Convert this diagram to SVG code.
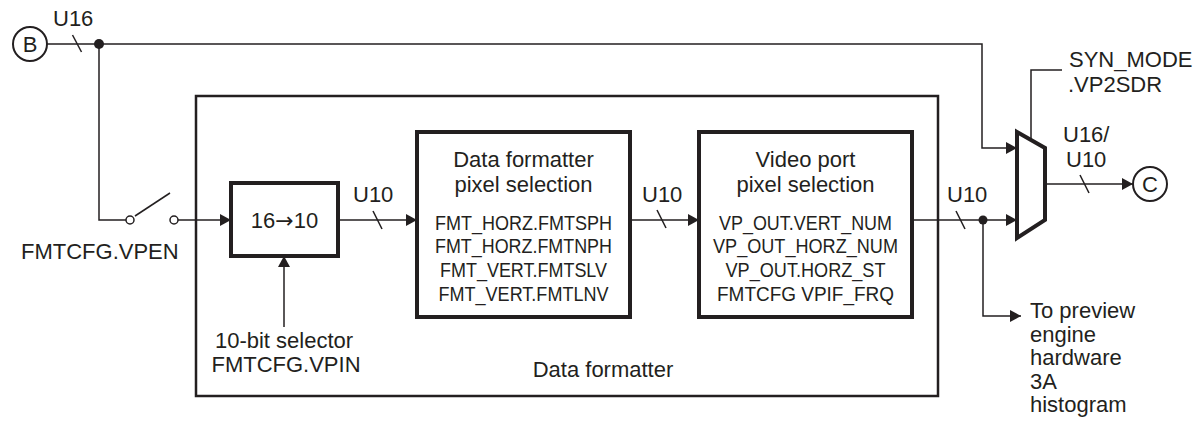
<svg xmlns="http://www.w3.org/2000/svg" width="1199" height="424" viewBox="0 0 1199 424">
<style>
text{font-family:"Liberation Sans",Arial,sans-serif;font-size:22px;fill:#231f20}
.c{text-anchor:middle}
.n{font-size:21px}
.ar{font-family:"DejaVu Sans",sans-serif;font-size:22px}
.ln{fill:none;stroke:#231f20;stroke-width:1.5}
.box{fill:#fff;stroke:#231f20;stroke-width:4}
.big{fill:none;stroke:#231f20;stroke-width:2.5}
.dot{fill:#231f20}
</style>
<defs>
<marker id="arr" viewBox="0 0 11 12" refX="11" refY="6" markerWidth="11" markerHeight="12" markerUnits="userSpaceOnUse" orient="auto">
<path d="M0,0 L11,6 L0,12 z" fill="#231f20"/>
</marker>
</defs>

<g id="data-formatter">
<rect class="big" x="196" y="96" width="742" height="300"/>
<text class="c" x="603" y="377">Data formatter</text>
</g>

<g id="connectors">
<path class="ln" d="M47,44 H982 V148 H1017" marker-end="url(#arr)"/>
<line class="ln" x1="72.5" y1="35" x2="81.5" y2="52"/>
<path class="ln" d="M99,44 V220 H126"/>
<line class="ln" x1="135" y1="216" x2="170" y2="193"/>
<path class="ln" d="M178,220 H231" marker-end="url(#arr)"/>
<path class="ln" d="M338,220 H417" marker-end="url(#arr)"/>
<line class="ln" x1="373" y1="211" x2="382" y2="229"/>
<path class="ln" d="M630,220 H699" marker-end="url(#arr)"/>
<line class="ln" x1="657" y1="210" x2="666" y2="228"/>
<path class="ln" d="M912,220 H1017" marker-end="url(#arr)"/>
<line class="ln" x1="956" y1="211" x2="965" y2="229"/>
<path class="ln" d="M983,220 V316 H1021" marker-end="url(#arr)"/>
<path class="ln" d="M284,327 V256" marker-end="url(#arr)"/>
<path class="ln" d="M1045,184 H1133" marker-end="url(#arr)"/>
<line class="ln" x1="1080" y1="175" x2="1089" y2="193"/>
<path class="ln" d="M1062,70 H1031 V140" stroke="#444"/>
<circle class="dot" cx="99" cy="44" r="5"/>
<circle class="dot" cx="983" cy="220" r="4.5"/>
</g>

<g id="node-b">
<circle cx="30" cy="44" r="17" fill="#fff" stroke="#231f20" stroke-width="2"/>
<text class="c" x="30" y="52">B</text>
</g>
<text x="53" y="26">U16</text>

<g id="switch">
<circle cx="130" cy="220" r="4" fill="#fff" stroke="#231f20" stroke-width="1.5"/>
<circle cx="174" cy="220" r="4" fill="#fff" stroke="#231f20" stroke-width="1.5"/>
<text x="21" y="259">FMTCFG.VPEN</text>
</g>

<g id="conv-16-10">
<rect class="box" x="231" y="183" width="107" height="73"/>
<text class="c" x="284.5" y="228">16<tspan class="ar">→</tspan>10</text>
</g>
<text x="353" y="202">U10</text>
<g id="selector-label">
<text class="c" x="284" y="348">10-bit selector</text>
<text class="c" x="286" y="372">FMTCFG.VPIN</text>
</g>

<g id="fmt-pixel-selection">
<rect class="box" x="417" y="132" width="213" height="185"/>
<text class="c" x="523.5" y="167">Data formatter</text>
<text class="c" x="523.5" y="192">pixel selection</text>
<text class="c n" x="523.5" y="230" textLength="177" lengthAdjust="spacingAndGlyphs">FMT_HORZ.FMTSPH</text>
<text class="c n" x="523.5" y="253" textLength="177" lengthAdjust="spacingAndGlyphs">FMT_HORZ.FMTNPH</text>
<text class="c n" x="523.5" y="277" textLength="167" lengthAdjust="spacingAndGlyphs">FMT_VERT.FMTSLV</text>
<text class="c n" x="523.5" y="301" textLength="170" lengthAdjust="spacingAndGlyphs">FMT_VERT.FMTLNV</text>
</g>
<text x="642" y="202">U10</text>

<g id="vp-pixel-selection">
<rect class="box" x="699" y="132" width="213" height="185"/>
<text class="c" x="805.5" y="167">Video port</text>
<text class="c" x="805.5" y="192">pixel selection</text>
<text class="c n" x="805.5" y="230" textLength="173" lengthAdjust="spacingAndGlyphs">VP_OUT.VERT_NUM</text>
<text class="c n" x="805.5" y="253" textLength="185" lengthAdjust="spacingAndGlyphs">VP_OUT_HORZ_NUM</text>
<text class="c n" x="805.5" y="277" textLength="160" lengthAdjust="spacingAndGlyphs">VP_OUT.HORZ_ST</text>
<text class="c n" x="805.5" y="301" textLength="177" lengthAdjust="spacingAndGlyphs">FMTCFG VPIF_FRQ</text>
</g>
<text x="947" y="202">U10</text>

<g id="mux">
<path d="M1017,132 L1045,148 L1045,220 L1017,238 Z" fill="#fff" stroke="#231f20" stroke-width="4" stroke-linejoin="miter"/>
</g>
<g id="mux-select-label">
<text x="1069" y="67">SYN_MODE</text>
<text x="1068" y="92">.VP2SDR</text>
</g>
<text x="1063" y="142">U16/</text>
<text x="1066" y="167">U10</text>

<g id="node-c">
<circle cx="1150" cy="184" r="17" fill="#fff" stroke="#231f20" stroke-width="2"/>
<text class="c" x="1150" y="192">C</text>
</g>

<g id="preview-label">
<text x="1030" y="318">To preview</text>
<text x="1030" y="341.5">engine</text>
<text x="1030" y="365">hardware</text>
<text x="1030" y="388.5">3A</text>
<text x="1030" y="412">histogram</text>
</g>
</svg>
